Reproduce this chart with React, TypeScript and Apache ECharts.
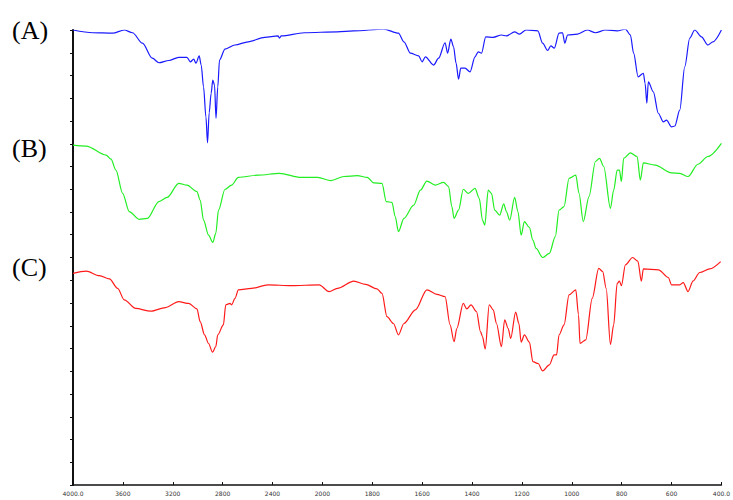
import React, { useEffect, useRef } from "react";
import * as echarts from "echarts";

// Wavenumber tick labels (cm-1); the scale changes at 2000 cm-1
const xTickLabels = ["4000.0", "3600", "3200", "2800", "2400", "2000", "1800", "1600", "1400", "1200", "1000", "800", "600", "400.0"];

const curveLabels = ["(A)", "(B)", "(C)"];

// [wavenumber cm-1, transmittance (offset, arbitrary units)]
const spectrumA: [number, number][] = [
  [4000, 100.0], [3841, 99.4], [3682, 99.3], [3589, 100.0], [3523, 99.4], [3443, 97.1], [3364, 93.8],
  [3311, 92.8], [3231, 93.3], [3152, 94.0], [3086, 94.0], [3059, 93.0], [3032, 93.6], [3014, 92.7],
  [2988, 94.3], [2972, 92.3], [2953, 87.5], [2934, 80.9], [2921, 75.2], [2908, 81.8], [2892, 86.1],
  [2879, 89.0], [2865, 87.9], [2853, 80.6], [2839, 87.5], [2825, 93.4], [2781, 95.8], [2701, 96.7],
  [2595, 97.4], [2463, 98.4], [2356, 98.7], [2344, 98.2], [2330, 98.7], [2145, 99.4], [1940, 99.6],
  [1874, 99.8], [1754, 100.2], [1695, 99.3], [1673, 97.4], [1647, 94.9], [1614, 94.3], [1600, 93.0],
  [1587, 94.1], [1554, 92.3], [1534, 93.8], [1508, 97.2], [1498, 94.9], [1485, 98.0], [1474, 96.3],
  [1464, 92.7], [1454, 89.2], [1445, 91.6], [1428, 91.6], [1408, 90.8], [1388, 94.1], [1375, 95.2],
  [1362, 94.9], [1345, 98.5], [1315, 98.4], [1282, 98.9], [1262, 98.7], [1229, 99.6], [1210, 99.1],
  [1183, 100.0], [1136, 99.8], [1117, 97.1], [1097, 95.5], [1084, 96.5], [1070, 96.0], [1051, 99.3],
  [1037, 99.4], [1028, 97.1], [1017, 98.9], [977, 99.1], [938, 100.0], [905, 99.4], [865, 100.0],
  [818, 99.8], [785, 100.2], [765, 98.9], [752, 94.9], [734, 89.7], [713, 90.5], [706, 88.3],
  [699, 83.9], [693, 88.6], [673, 86.4], [653, 81.7], [633, 79.8], [620, 80.2], [600, 78.7],
  [587, 78.9], [567, 82.4], [547, 91.9], [527, 98.2], [507, 100.0], [480, 98.5], [454, 96.7],
  [434, 97.4], [400, 100.0],
];

const spectrumB: [number, number][] = [
  [4000, 74.7], [3894, 74.5], [3735, 72.5], [3695, 71.6], [3656, 69.2], [3602, 64.1], [3549, 60.1],
  [3470, 58.4], [3404, 58.6], [3311, 62.3], [3245, 63.2], [3152, 66.3], [3086, 65.9], [3006, 64.5],
  [2980, 62.6], [2953, 58.2], [2913, 54.9], [2879, 53.3], [2855, 55.3], [2833, 60.4], [2781, 65.0],
  [2728, 65.9], [2674, 67.6], [2515, 68.1], [2344, 68.5], [2171, 67.6], [2038, 67.6], [1966, 66.9],
  [1913, 67.8], [1860, 68.0], [1820, 67.6], [1794, 66.4], [1761, 66.3], [1744, 62.3], [1721, 62.1],
  [1708, 59.0], [1695, 55.7], [1673, 58.6], [1634, 61.5], [1607, 64.8], [1581, 66.8], [1548, 65.9],
  [1514, 66.5], [1494, 65.6], [1481, 61.2], [1472, 58.6], [1454, 60.4], [1435, 65.0], [1415, 64.1],
  [1388, 65.2], [1371, 63.0], [1358, 58.2], [1349, 57.1], [1335, 64.8], [1322, 64.1], [1309, 60.4],
  [1289, 59.3], [1273, 61.8], [1262, 60.1], [1249, 58.2], [1229, 63.2], [1216, 60.1], [1203, 54.9],
  [1190, 57.9], [1170, 56.6], [1156, 53.8], [1143, 52.0], [1117, 50.0], [1090, 50.9], [1066, 54.6],
  [1051, 60.4], [1031, 61.2], [1011, 67.4], [984, 68.1], [971, 64.1], [954, 57.9], [931, 63.4],
  [905, 71.1], [889, 71.8], [872, 70.0], [845, 60.8], [832, 64.8], [818, 69.2], [809, 69.2],
  [801, 66.7], [792, 71.8], [765, 73.0], [738, 72.2], [725, 67.0], [713, 70.8], [666, 70.3],
  [600, 68.6], [567, 68.5], [534, 67.8], [494, 70.5], [454, 72.2], [400, 75.1],
];

const spectrumC: [number, number][] = [
  [4000, 46.5], [3894, 47.0], [3788, 46.0], [3708, 45.3], [3642, 43.2], [3589, 40.7], [3497, 38.8],
  [3377, 38.2], [3258, 39.0], [3152, 40.3], [3072, 39.9], [3006, 38.7], [2980, 35.9], [2945, 33.0],
  [2913, 31.1], [2881, 29.2], [2855, 30.4], [2839, 33.0], [2794, 35.2], [2775, 39.6], [2741, 39.9],
  [2728, 39.6], [2701, 41.0], [2674, 42.9], [2569, 43.2], [2436, 44.0], [2251, 43.8], [2026, 44.0],
  [1973, 42.5], [1940, 43.2], [1874, 44.8], [1827, 44.1], [1781, 43.1], [1761, 42.1], [1741, 37.0],
  [1715, 35.5], [1695, 33.0], [1673, 35.5], [1627, 38.5], [1581, 42.9], [1541, 41.9], [1508, 41.4],
  [1488, 35.2], [1472, 31.5], [1461, 34.4], [1435, 39.9], [1421, 38.7], [1404, 39.6], [1382, 38.1],
  [1366, 33.7], [1358, 32.6], [1347, 29.9], [1331, 39.6], [1315, 38.5], [1302, 35.5], [1282, 30.4],
  [1269, 36.3], [1255, 34.4], [1245, 32.2], [1225, 38.0], [1212, 35.5], [1203, 31.4], [1190, 33.0],
  [1170, 31.4], [1156, 27.1], [1135, 26.7], [1117, 25.1], [1090, 26.4], [1071, 28.6], [1061, 28.6],
  [1051, 33.0], [1031, 35.2], [1011, 41.8], [984, 42.9], [973, 37.4], [967, 31.1], [944, 31.9],
  [918, 41.0], [892, 47.6], [876, 46.9], [862, 43.2], [845, 30.9], [832, 35.2], [818, 44.3],
  [809, 44.8], [801, 43.8], [785, 48.4], [756, 50.0], [735, 49.2], [721, 44.8], [713, 47.5],
  [652, 47.3], [613, 45.6], [600, 44.0], [567, 44.0], [553, 44.5], [534, 42.5], [514, 44.8],
  [487, 46.7], [447, 47.5], [403, 49.1],
];

// Piecewise axis: 4000-2000 uses 400 cm-1 per tick, 2000-400 uses 200 cm-1 per tick
const toAxis = (w: number) => (w >= 2000 ? (4000 - w) / 400 : 5 + (2000 - w) / 200);

export default function App() {
  const ref = useRef<HTMLDivElement>(null);
  useEffect(() => {
    if (!ref.current) return;
    const chart = echarts.init(ref.current, null, { renderer: "svg" });
    const mk = (d: [number, number][], color: string) => ({
      type: "line" as const,
      data: d.map(([w, t]) => [toAxis(w), t]),
      showSymbol: false,
      symbol: "none",
      smooth: 0.3,
      smoothMonotone: "x",
      lineStyle: { color, width: 1.2 },
      silent: true,
    });
    chart.setOption({
      animation: false,
      backgroundColor: "#ffffff",
      grid: { left: 73, right: 6, top: 30, bottom: 15 },
      xAxis: {
        type: "value",
        min: 0,
        max: 13,
        interval: 1,
        axisLine: { onZero: false, lineStyle: { color: "#111", width: 1.5 } },
        axisTick: { inside: true, length: 3, lineStyle: { color: "#111" } },
        axisLabel: {
          formatter: (v: number) => xTickLabels[Math.round(v)] ?? "",
          fontSize: 6,
          color: "#333",
          margin: 5,
          fontFamily: "DejaVu Sans",
        },
        splitLine: { show: false },
      },
      yAxis: {
        type: "value",
        min: 0,
        max: 100,
        interval: 5,
        axisLine: { show: true, lineStyle: { color: "#111", width: 2 } },
        axisTick: { show: true, inside: false, length: 3, lineStyle: { color: "#111" } },
        axisLabel: { show: false },
        splitLine: { show: false },
      },
      graphic: [
        { type: "text", left: 12, top: 17, style: { text: curveLabels[0], font: "26px 'Liberation Serif'", fill: "#000" } },
        { type: "text", left: 12, top: 135, style: { text: curveLabels[1], font: "26px 'Liberation Serif'", fill: "#000" } },
        { type: "text", left: 12, top: 254, style: { text: curveLabels[2], font: "26px 'Liberation Serif'", fill: "#000" } },
      ],
      series: [mk(spectrumA, "#1a1aff"), mk(spectrumB, "#22ee22"), mk(spectrumC, "#ff1a1a")],
    });
    return () => chart.dispose();
  }, []);
  return <div ref={ref} style={{ position: "absolute", left: 0, top: 0, width: 733, height: 500 }} />;
}
